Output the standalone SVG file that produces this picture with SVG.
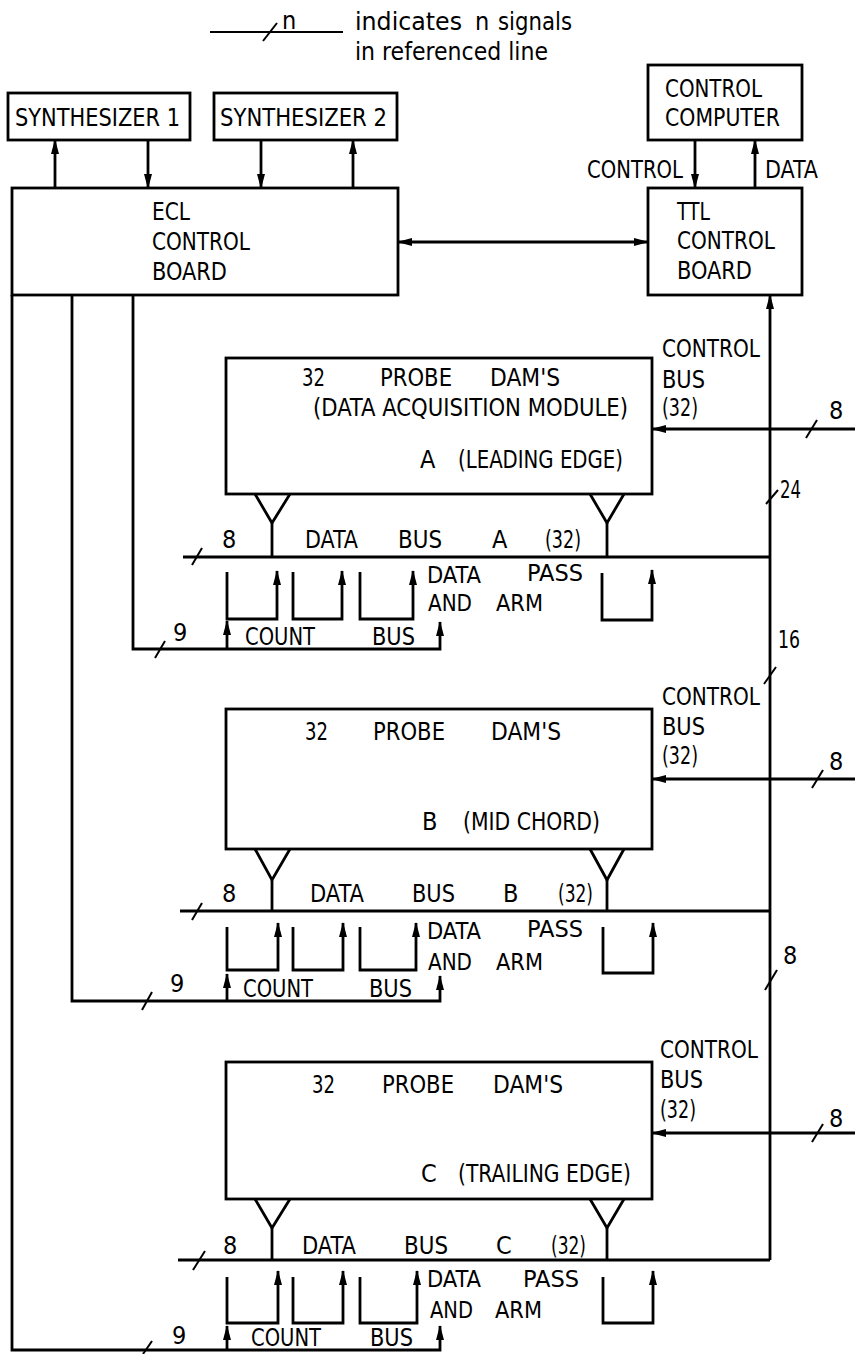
<svg xmlns="http://www.w3.org/2000/svg" width="855" height="1354" viewBox="0 0 855 1354">
<style>
.b{fill:none;stroke:#000;stroke-width:2.8}
.l{fill:none;stroke:#000;stroke-width:2.8}
.a{marker-end:url(#ah)}
.tk{fill:none;stroke:#000;stroke-width:2}
text{font-family:"DejaVu Sans Condensed","DejaVu Sans","Liberation Sans",sans-serif;font-stretch:condensed;font-size:25px;fill:#000}
text.s{font-size:23px}
</style>
<defs>
<marker id="ah" viewBox="0 0 15 8" markerWidth="15" markerHeight="8" refX="14" refY="4" orient="auto-start-reverse" markerUnits="userSpaceOnUse">
<path d="M0,0 L15,4 L0,8 z" fill="#000"/>
</marker>
</defs>
<rect width="855" height="1354" fill="#fff"/>

<g id="legend">
<line class="tk" x1="210" y1="32" x2="343" y2="32"/>
<line class="tk" x1="263" y1="41" x2="277" y2="23"/>
<text x="282" y="29">n</text>
<text x="355" y="30" textLength="107" lengthAdjust="spacingAndGlyphs">indicates</text>
<text x="475" y="30">n</text>
<text x="498" y="30" textLength="74" lengthAdjust="spacingAndGlyphs">signals</text>
<text x="355" y="60" textLength="193" lengthAdjust="spacingAndGlyphs">in referenced line</text>
</g>

<g id="synth1">
<rect class="b" x="8" y="93" width="182" height="47"/>
<text x="15" y="126" textLength="165" lengthAdjust="spacingAndGlyphs">SYNTHESIZER 1</text>
</g>
<g id="synth2">
<rect class="b" x="214" y="93" width="183" height="47"/>
<text x="220" y="126" textLength="167" lengthAdjust="spacingAndGlyphs">SYNTHESIZER 2</text>
</g>
<g id="ecl">
<rect class="b" x="12" y="188" width="386" height="107"/>
<text x="152" y="220" textLength="38" lengthAdjust="spacingAndGlyphs">ECL</text>
<text x="152" y="250" textLength="98" lengthAdjust="spacingAndGlyphs">CONTROL</text>
<text x="152" y="280" textLength="75" lengthAdjust="spacingAndGlyphs">BOARD</text>
</g>
<g id="computer">
<rect class="b" x="648" y="65" width="154" height="75"/>
<text x="665" y="97" textLength="97" lengthAdjust="spacingAndGlyphs">CONTROL</text>
<text x="665" y="126" textLength="115" lengthAdjust="spacingAndGlyphs">COMPUTER</text>
</g>
<g id="ttl">
<rect class="b" x="648" y="188" width="154" height="107"/>
<text x="677" y="220" textLength="33" lengthAdjust="spacingAndGlyphs">TTL</text>
<text x="677" y="249" textLength="98" lengthAdjust="spacingAndGlyphs">CONTROL</text>
<text x="677" y="279" textLength="75" lengthAdjust="spacingAndGlyphs">BOARD</text>
</g>

<g id="damA">
<rect class="b" x="226" y="358" width="426" height="136"/>
<text x="302" y="386" textLength="23" lengthAdjust="spacingAndGlyphs">32</text>
<text x="380" y="386" textLength="72" lengthAdjust="spacingAndGlyphs">PROBE</text>
<text x="490" y="386" textLength="70" lengthAdjust="spacingAndGlyphs">DAM'S</text>
<text x="313" y="416" textLength="315" lengthAdjust="spacingAndGlyphs">(DATA ACQUISITION MODULE)</text>
<text x="420" y="468">A</text>
<text x="458" y="468" textLength="165" lengthAdjust="spacingAndGlyphs">(LEADING EDGE)</text>
</g>
<g id="damB">
<rect class="b" x="226" y="709" width="426" height="140"/>
<text x="305" y="740" textLength="23" lengthAdjust="spacingAndGlyphs">32</text>
<text x="373" y="740" textLength="72" lengthAdjust="spacingAndGlyphs">PROBE</text>
<text x="491" y="740" textLength="70" lengthAdjust="spacingAndGlyphs">DAM'S</text>
<text x="422" y="830">B</text>
<text x="463" y="830" textLength="137" lengthAdjust="spacingAndGlyphs">(MID CHORD)</text>
</g>
<g id="damC">
<rect class="b" x="226" y="1062" width="426" height="137"/>
<text x="312" y="1093" textLength="23" lengthAdjust="spacingAndGlyphs">32</text>
<text x="382" y="1093" textLength="72" lengthAdjust="spacingAndGlyphs">PROBE</text>
<text x="493" y="1093" textLength="70" lengthAdjust="spacingAndGlyphs">DAM'S</text>
<text x="421" y="1182">C</text>
<text x="458" y="1182" textLength="173" lengthAdjust="spacingAndGlyphs">(TRAILING EDGE)</text>
</g>

<g id="connectors">
<line class="l a" x1="55" y1="188" x2="55" y2="140"/>
<line class="l a" x1="148" y1="140" x2="148" y2="188"/>
<line class="l a" x1="261" y1="140" x2="261" y2="188"/>
<line class="l a" x1="353" y1="188" x2="353" y2="140"/>
<line class="l a" x1="695" y1="140" x2="695" y2="188"/>
<line class="l a" x1="755" y1="188" x2="755" y2="140"/>
<line class="l a" x1="398" y1="242" x2="648" y2="242" style="marker-start:url(#ah)"/>
<line class="l a" x1="770" y1="1260" x2="770" y2="295"/>
<line class="tk" x1="766" y1="504" x2="778" y2="490"/>
<line class="tk" x1="764" y1="684" x2="776" y2="667"/>
<line class="tk" x1="765" y1="990" x2="777" y2="970"/>
<line class="l" x1="183" y1="557" x2="770" y2="557"/>
<line class="l" x1="180" y1="911" x2="770" y2="911"/>
<line class="l" x1="178" y1="1260" x2="770" y2="1260"/>
<line class="tk" x1="192" y1="565" x2="202" y2="548"/>
<line class="tk" x1="192" y1="920" x2="202" y2="903"/>
<line class="tk" x1="193" y1="1270" x2="205" y2="1251"/>
<line class="l a" x1="855" y1="429" x2="652" y2="429"/>
<line class="l a" x1="855" y1="779" x2="652" y2="779"/>
<line class="l a" x1="855" y1="1133" x2="652" y2="1133"/>
<line class="tk" x1="806" y1="438" x2="817" y2="420"/>
<line class="tk" x1="812" y1="788" x2="823" y2="770"/>
<line class="tk" x1="812" y1="1142" x2="823" y2="1124"/>
<polyline class="l" points="255,494 272,523 290,494"/>
<line class="l" x1="272" y1="523" x2="272" y2="557"/>
<polyline class="l" points="590,494 607,523 624,494"/>
<line class="l" x1="607" y1="523" x2="607" y2="557"/>
<polyline class="l" points="255,849 272,880 290,849"/>
<line class="l" x1="272" y1="880" x2="272" y2="911"/>
<polyline class="l" points="590,849 607,880 624,849"/>
<line class="l" x1="607" y1="880" x2="607" y2="911"/>
<polyline class="l" points="255,1199 272,1228 290,1199"/>
<line class="l" x1="272" y1="1228" x2="272" y2="1260"/>
<polyline class="l" points="590,1199 607,1228 624,1199"/>
<line class="l" x1="607" y1="1228" x2="607" y2="1260"/>
<polyline class="l a" points="227,572 227,619 277,619 277,571"/>
<polyline class="l a" points="293,572 293,619 342,619 342,571"/>
<polyline class="l a" points="360,572 360,619 413,619 413,571"/>
<polyline class="l a" points="602,573 602,620 652,620 652,570"/>
<polyline class="l a" points="227,927 227,970 278,970 278,923"/>
<polyline class="l a" points="293,927 293,970 343,970 343,923"/>
<polyline class="l a" points="360,927 360,970 416,970 416,923"/>
<polyline class="l a" points="603,927 603,973 653,973 653,923"/>
<polyline class="l a" points="227,1277 227,1323 278,1323 278,1271"/>
<polyline class="l a" points="293,1277 293,1323 343,1323 343,1271"/>
<polyline class="l a" points="360,1277 360,1323 417,1323 417,1271"/>
<polyline class="l a" points="603,1277 603,1323 653,1323 653,1271"/>
<polyline class="l a" points="133,295 133,649 440,649 440,622"/>
<polyline class="l a" points="72,295 72,1001 440,1001 440,976"/>
<polyline class="l a" points="12,295 12,1350 440,1350 440,1326"/>
<line class="l a" x1="227" y1="649" x2="227" y2="621"/>
<line class="l a" x1="227" y1="1001" x2="227" y2="974"/>
<line class="l a" x1="227" y1="1350" x2="227" y2="1326"/>
<line class="tk" x1="155" y1="658" x2="165" y2="641"/>
<line class="tk" x1="142" y1="1010" x2="152" y2="992"/>
<line class="tk" x1="143" y1="1354" x2="152" y2="1341"/>
</g>

<g id="labels">
<text x="587" y="178" textLength="96" lengthAdjust="spacingAndGlyphs">CONTROL</text>
<text x="765" y="178" textLength="53" lengthAdjust="spacingAndGlyphs">DATA</text>
<text x="780" y="498" textLength="21" lengthAdjust="spacingAndGlyphs">24</text>
<text x="778" y="648" textLength="22" lengthAdjust="spacingAndGlyphs">16</text>
<text x="783" y="964">8</text>

<text x="662" y="357" textLength="98" lengthAdjust="spacingAndGlyphs">CONTROL</text>
<text x="662" y="388" textLength="43" lengthAdjust="spacingAndGlyphs">BUS</text>
<text x="662" y="416" textLength="36" lengthAdjust="spacingAndGlyphs">(32)</text>
<text x="829" y="419">8</text>
<text x="662" y="705" textLength="98" lengthAdjust="spacingAndGlyphs">CONTROL</text>
<text x="662" y="735" textLength="43" lengthAdjust="spacingAndGlyphs">BUS</text>
<text x="662" y="764" textLength="36" lengthAdjust="spacingAndGlyphs">(32)</text>
<text x="829" y="770">8</text>
<text x="660" y="1058" textLength="98" lengthAdjust="spacingAndGlyphs">CONTROL</text>
<text x="660" y="1088" textLength="43" lengthAdjust="spacingAndGlyphs">BUS</text>
<text x="660" y="1118" textLength="36" lengthAdjust="spacingAndGlyphs">(32)</text>
<text x="829" y="1127">8</text>

<text x="222" y="548">8</text>
<text x="305" y="548" textLength="53" lengthAdjust="spacingAndGlyphs">DATA</text>
<text x="398" y="548" textLength="44" lengthAdjust="spacingAndGlyphs">BUS</text>
<text x="492" y="548">A</text>
<text x="545" y="548" textLength="36" lengthAdjust="spacingAndGlyphs">(32)</text>
<text class="s" x="427" y="583" textLength="54" lengthAdjust="spacingAndGlyphs">DATA</text>
<text class="s" x="527" y="581" textLength="56" lengthAdjust="spacingAndGlyphs">PASS</text>
<text class="s" x="428" y="611" textLength="44" lengthAdjust="spacingAndGlyphs">AND</text>
<text class="s" x="496" y="611" textLength="47" lengthAdjust="spacingAndGlyphs">ARM</text>
<text x="173" y="641">9</text>
<text x="245" y="645" textLength="70" lengthAdjust="spacingAndGlyphs">COUNT</text>
<text x="372" y="645" textLength="43" lengthAdjust="spacingAndGlyphs">BUS</text>

<text x="222" y="902">8</text>
<text x="310" y="902" textLength="54" lengthAdjust="spacingAndGlyphs">DATA</text>
<text x="412" y="902" textLength="43" lengthAdjust="spacingAndGlyphs">BUS</text>
<text x="503" y="902">B</text>
<text x="558" y="902" textLength="35" lengthAdjust="spacingAndGlyphs">(32)</text>
<text class="s" x="427" y="939" textLength="54" lengthAdjust="spacingAndGlyphs">DATA</text>
<text class="s" x="527" y="937" textLength="56" lengthAdjust="spacingAndGlyphs">PASS</text>
<text class="s" x="428" y="970" textLength="44" lengthAdjust="spacingAndGlyphs">AND</text>
<text class="s" x="496" y="970" textLength="47" lengthAdjust="spacingAndGlyphs">ARM</text>
<text x="170" y="992">9</text>
<text x="243" y="997" textLength="70" lengthAdjust="spacingAndGlyphs">COUNT</text>
<text x="369" y="997" textLength="43" lengthAdjust="spacingAndGlyphs">BUS</text>

<text x="223" y="1254">8</text>
<text x="302" y="1254" textLength="54" lengthAdjust="spacingAndGlyphs">DATA</text>
<text x="404" y="1254" textLength="44" lengthAdjust="spacingAndGlyphs">BUS</text>
<text x="496" y="1254">C</text>
<text x="551" y="1254" textLength="35" lengthAdjust="spacingAndGlyphs">(32)</text>
<text class="s" x="427" y="1287" textLength="54" lengthAdjust="spacingAndGlyphs">DATA</text>
<text class="s" x="523" y="1287" textLength="56" lengthAdjust="spacingAndGlyphs">PASS</text>
<text class="s" x="430" y="1318" textLength="43" lengthAdjust="spacingAndGlyphs">AND</text>
<text class="s" x="495" y="1318" textLength="47" lengthAdjust="spacingAndGlyphs">ARM</text>
<text x="172" y="1344">9</text>
<text x="251" y="1346" textLength="70" lengthAdjust="spacingAndGlyphs">COUNT</text>
<text x="370" y="1346" textLength="43" lengthAdjust="spacingAndGlyphs">BUS</text>
</g>
</svg>
